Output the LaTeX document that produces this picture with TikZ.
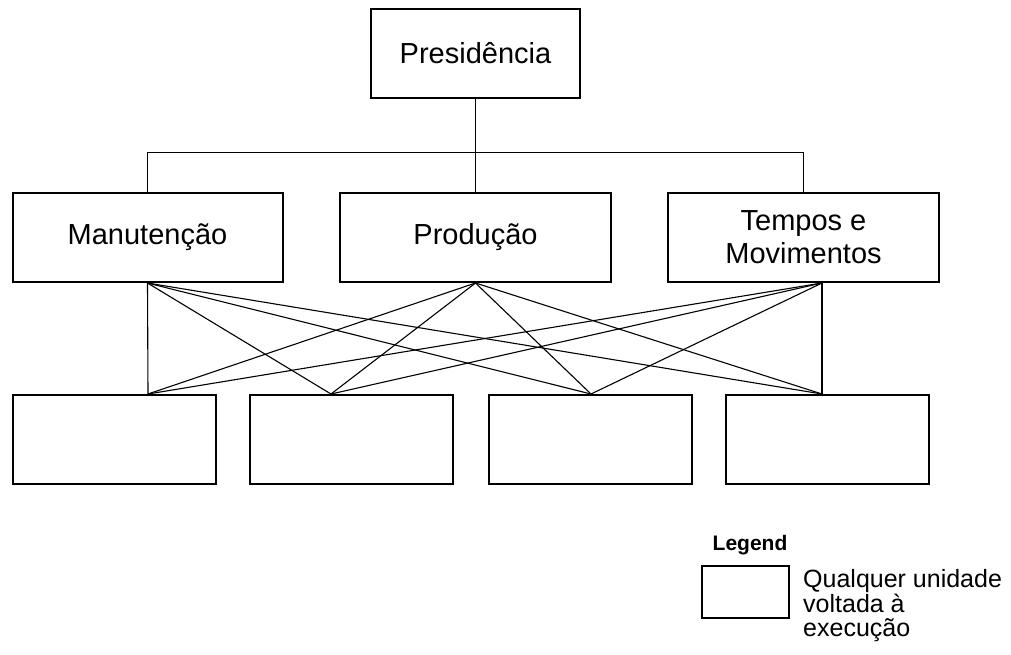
\documentclass[tikz,border=0pt]{standalone}
\usepackage{fontspec}
\setmainfont{Liberation Sans}
\usepackage{tikz}
\usetikzlibrary{positioning,calc}
\tikzset{
    unitbox/.style={rectangle, draw=black, line width=2pt, fill=white, minimum height=89pt, inner sep=0pt, align=center, font=\fontsize{29}{33}\selectfont},
    execbox/.style={rectangle, draw=black, line width=2pt, fill=white, minimum width=203pt, minimum height=89pt, inner sep=0pt},
    link/.style={draw=black, line width=1.1pt}
}

\begin{document}
\begin{tikzpicture}[
        x=1pt, y=1pt,
        % Configuracao da arvore
        level 1/.style={sibling distance=328pt, level distance=184pt},
        % Ligacao em barramento
        edge from parent/.style={draw=black, line width=1.1pt},
        edge from parent path={(\tikzparentnode.south) -- ++(0,-53.5) -| (\tikzchildnode.north)}
    ]
        \useasboundingbox (0,0) rectangle (1011,-654);

        % --- TOPO ---
        \node[unitbox, minimum width=209pt] (pres) at (475.5,-53.5) {Presidência}
            child { node[unitbox, minimum width=270pt] (man) {Manutenção} }
            child { node[unitbox, minimum width=271pt] (prod) {Produção} }
            child { node[unitbox, minimum width=271pt] (temp) {Tempos e\\Movimentos} };

        % --- UNIDADES DE EXECUCAO ---
        \node[execbox] (e1) at (114.5,-439.5) {};
        \node[execbox] (e2) at (351.5,-439.5) {};
        \node[execbox] (e3) at (590,-439.5) {};
        \node[execbox] (e4) at (827,-439.5) {};

        % pontos de ligacao
        \coordinate (man-out) at (man.south);
        \coordinate (prod-out) at (prod.south);
        \coordinate (temp-out) at ([xshift=18.5pt]temp.south);
        \coordinate (e1-in) at ([xshift=33.5pt]e1.north);
        \coordinate (e2-in) at ([xshift=-20.5pt]e2.north);
        \coordinate (e3-in) at ([xshift=1pt]e3.north);
        \coordinate (e4-in) at ([xshift=-5pt]e4.north);

        \foreach \src in {man-out,prod-out,temp-out}
            \foreach \dst in {e1-in,e2-in,e3-in,e4-in}
                \draw[link] (\src) -- (\dst);

        % --- LEGENDA ---
        \node[font=\bfseries\fontsize{21}{24}\selectfont] (leg-title) at (750,-545) {Legend};
        \node[rectangle, draw=black, line width=2pt, minimum width=87pt, minimum height=52pt, inner sep=0pt] (leg-box) at (745.5,-592) {};
        \node[anchor=west, inner sep=0pt, align=left, font=\fontsize{25}{24.5}\selectfont] (leg-text) at (803,-606) {Qualquer unidade\\voltada à\\execução};

    \end{tikzpicture}
\end{document}
